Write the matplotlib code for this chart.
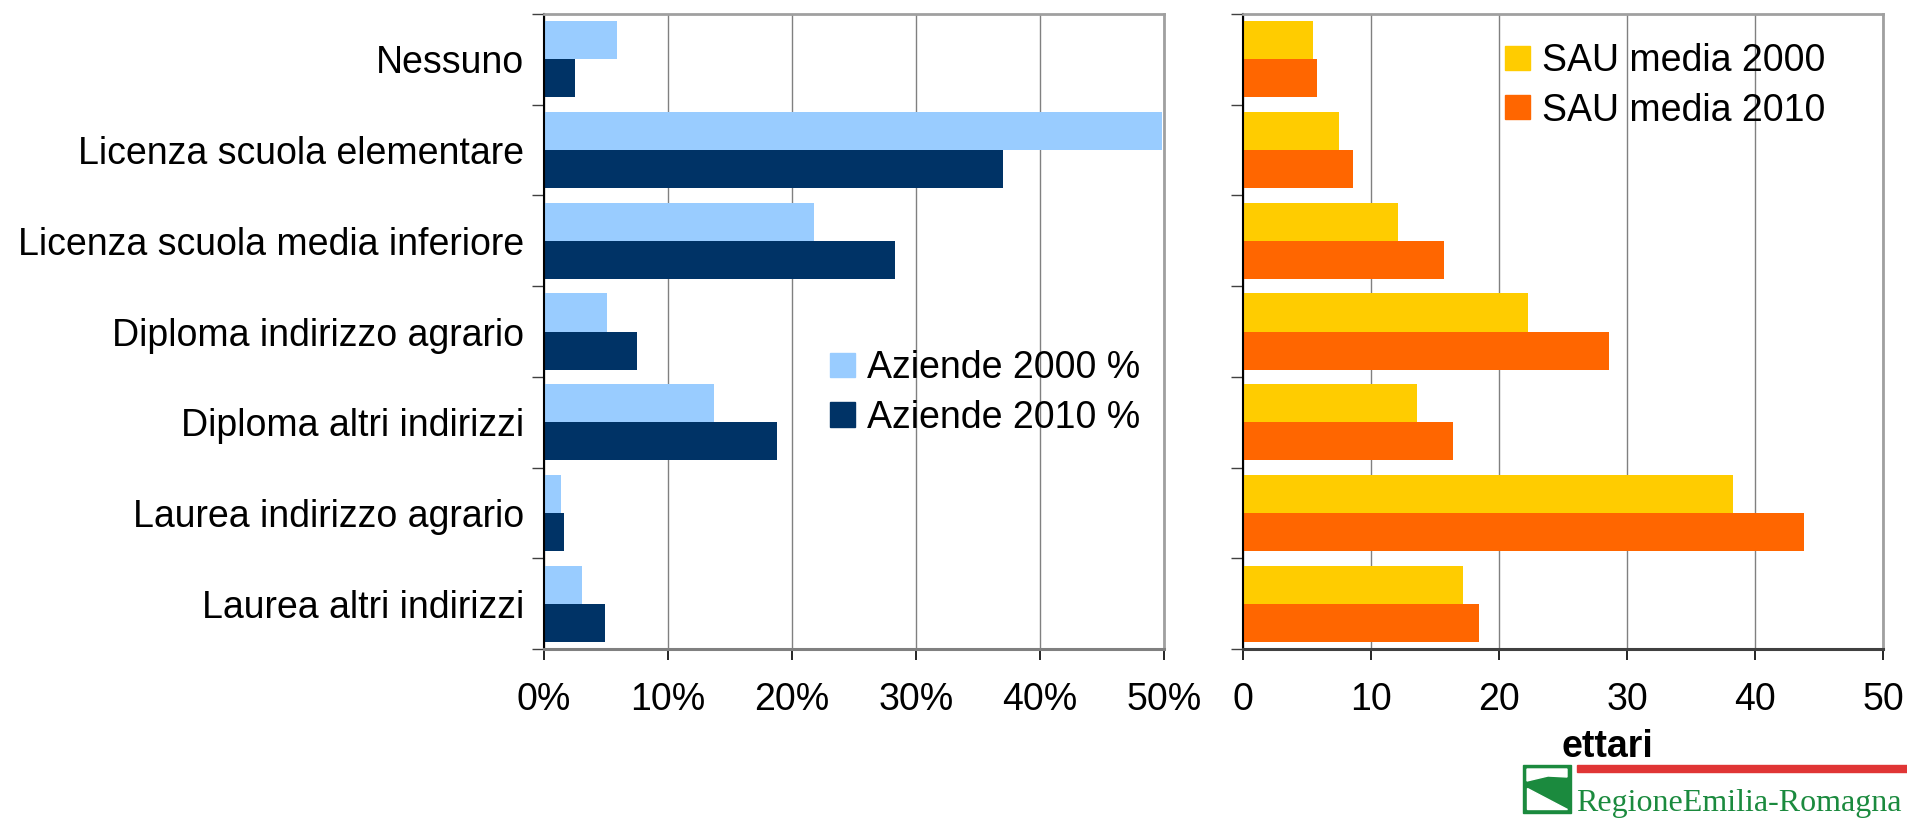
import numpy as np
import matplotlib.pyplot as plt
from matplotlib.patches import Patch, Rectangle, Polygon

plt.rcParams['font.family'] = ['Liberation Sans', 'DejaVu Sans']

# --- Daten ---
categorie = ['Nessuno', 'Licenza scuola elementare', 'Licenza scuola media inferiore',
             'Diploma indirizzo agrario', 'Diploma altri indirizzi',
             'Laurea indirizzo agrario', 'Laurea altri indirizzi']
aziende_2000 = [5.9, 49.8, 21.8, 5.1, 13.7, 1.4, 3.1]   # %
aziende_2010 = [2.5, 37.0, 28.3, 7.5, 18.8, 1.6, 4.9]   # %
sau_2000 = [5.5, 7.5, 12.1, 22.3, 13.6, 38.3, 17.2]     # ettari
sau_2010 = [5.8, 8.6, 15.7, 28.6, 16.4, 43.8, 18.4]     # ettari

pct_ticks = [0, 10, 20, 30, 40, 50]
pct_labels = ['0%', '10%', '20%', '30%', '40%', '50%']
ha_ticks = [0, 10, 20, 30, 40, 50]

W, H = 1908, 818
fig = plt.figure(figsize=(W / 100, H / 100), dpi=100)
ax1 = fig.add_axes([544 / W, 1 - 649 / H, 620 / W, 635 / H])
ax2 = fig.add_axes([1243 / W, 1 - 649 / H, 640 / W, 635 / H])

y = np.arange(len(categorie))
bh = 0.42
ax1.barh(y - bh / 2, aziende_2000, height=bh, color='#99CCFF', label='Aziende 2000 %')
ax1.barh(y + bh / 2, aziende_2010, height=bh, color='#003366', label='Aziende 2010 %')
ax2.barh(y - bh / 2, sau_2000, height=bh, color='#FFCC00', label='SAU media 2000')
ax2.barh(y + bh / 2, sau_2010, height=bh, color='#FF6600', label='SAU media 2010')

for ax, bottom_col in [(ax1, '#808080'), (ax2, '#404040')]:
    ax.set_xlim(0, 50)
    ax.set_ylim(len(categorie) - 0.5, -0.5)
    ax.set_yticks(np.arange(-0.5, len(categorie), 1))
    ax.set_yticklabels([])
    ax.tick_params(axis='y', which='major', length=8.6, width=1, color='#404040')
    ax.tick_params(axis='x', length=8, width=1.2, pad=16, labelsize=27)
    ax.grid(axis='x', color='#808080', lw=1)
    ax.set_axisbelow(True)
    ax.spines['left'].set_color('black')
    ax.spines['left'].set_linewidth(1.5)
    for s in ['top', 'right']:
        ax.spines[s].set_color('#A0A0A0')
        ax.spines[s].set_linewidth(2)
    ax.spines['bottom'].set_color(bottom_col)
    ax.spines['bottom'].set_linewidth(2.2)

ax1.set_xticks(pct_ticks, pct_labels)
ax2.set_xticks(ha_ticks, [str(t) for t in ha_ticks])

ax1.set_yticks(y, categorie, minor=True)
ax1.tick_params(axis='y', which='minor', length=0, pad=14.4, labelsize=27)
ax2.set_yticks([], minor=True)

leg_kw = dict(frameon=False, fontsize=27, handlelength=0.67, handleheight=0.62,
              handletextpad=0.32, labelspacing=0.36, borderpad=0, borderaxespad=0)
h1 = [Patch(color='#99CCFF'), Patch(color='#003366')]
ax1.legend(h1, ['Aziende 2000 %', 'Aziende 2010 %'], loc='center left',
           bbox_to_anchor=(0.461, 0.403), **leg_kw)
h2 = [Patch(color='#FFCC00'), Patch(color='#FF6600')]
ax2.legend(h2, ['SAU media 2000', 'SAU media 2010'], loc='center left',
           bbox_to_anchor=(0.409, 0.887), **leg_kw)

fig.text(1607 / W, 1 - 747 / H, 'ettari', fontsize=27, fontweight='bold',
         ha='center', va='center')

# Logo Regione Emilia-Romagna
def px(x, yy):
    return (x / W, 1 - yy / H)

green = '#1B8A3E'
fig.add_artist(Rectangle(px(1523, 813), 48 / W, 48 / H, transform=fig.transFigure,
                         color=green))
fig.add_artist(Polygon([px(1527, 769), px(1567, 769), px(1567, 777), px(1548, 776),
                        px(1527, 781)], closed=True, transform=fig.transFigure,
                       color='white'))
fig.add_artist(Polygon([px(1527, 788), px(1527, 809), px(1567, 809)], closed=True,
                       transform=fig.transFigure, color='white'))
fig.add_artist(Rectangle(px(1577, 772), (W - 1577) / W, 7 / H, transform=fig.transFigure,
                         color='#E03535'))
fig.text(1576 / W, 1 - 811 / H, 'RegioneEmilia-Romagna', fontsize=23, color=green,
         family='Liberation Serif', va='baseline', ha='left')

plt.savefig('out.png', dpi=100)
